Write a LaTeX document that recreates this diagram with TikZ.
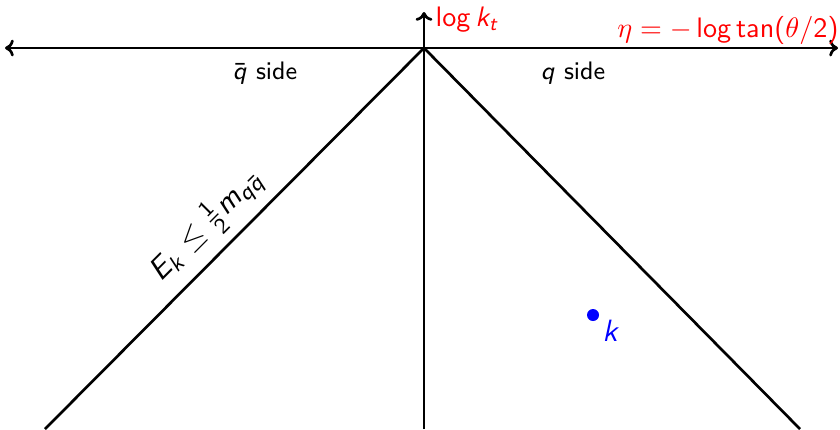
\documentclass[tikz,border=0pt]{standalone}
\usepackage{amsmath,amssymb}
\usepackage{xcolor}
\renewcommand{\familydefault}{\sfdefault}
% sans digits, operators and latin letters in math
\DeclareSymbolFont{operators}{OT1}{cmss}{m}{n}
\DeclareSymbolFont{sfletters}{OT1}{cmss}{m}{sl}
\DeclareMathSymbol{E}{\mathalpha}{sfletters}{`E}
\DeclareMathSymbol{k}{\mathalpha}{sfletters}{`k}
\DeclareMathSymbol{m}{\mathalpha}{sfletters}{`m}
\DeclareMathSymbol{q}{\mathalpha}{sfletters}{`q}
\DeclareMathSymbol{t}{\mathalpha}{sfletters}{`t}
\usetikzlibrary{arrows.meta,positioning}

\begin{document}
\begin{tikzpicture}[
  x=0.0125cm, y=-0.0125cm,
  font=\sffamily,
  axis/.style={line width=0.95pt, color=black},
  axisarrow/.style={axis, -{To[length=1.1mm, width=2.1mm]}},
  sidelabel/.style={font=\sffamily\small},
  redlabel/.style={text=red, inner sep=0pt, font=\sffamily\fontsize{10.2}{12}\selectfont}
]
\useasboundingbox (0,0) rectangle (840,429);

% axes
\coordinate (O) at (424,48);
\coordinate (xl) at (5,48);
\coordinate (xr) at (838,48);
\coordinate (yb) at (424,429);
\coordinate (yt) at (424,12);
\coordinate (bl) at (45,429);
\coordinate (br) at (800,429);

\draw[axis, {To[length=1.1mm, width=2.1mm]}-{To[length=1.1mm, width=2.1mm]}] (xl) -- (xr);
\draw[axisarrow] (yb) -- (yt);

\node[redlabel, anchor=west] (kt) at (435,19) {$\log k_t$};
\node[redlabel, anchor=base east] (eta) at (839,37) {$\eta = -\log\tan(\theta/2)$};

\node[sidelabel] (qbar) at (265,73) {$\bar q$ side};
\node[sidelabel] (q) at (573,73) {$q$ side};

% phase-space boundaries
\draw[axis] (bl) -- node[sloped, above, pos=0.48, font=\sffamily\fontsize{11}{13}\selectfont] (ek) {$E_k \leq \frac{1}{2} m_{q\bar q}$} (O);
\draw[axis] (O) -- (br);

% emission
\fill[blue] (593,315) circle (6) coordinate (kpt);
\node[text=blue, anchor=north west, inner sep=1pt, font=\sffamily\fontsize{10.5}{12}\selectfont] (k) at (599,317) {$k$};
\end{tikzpicture}
\end{document}
